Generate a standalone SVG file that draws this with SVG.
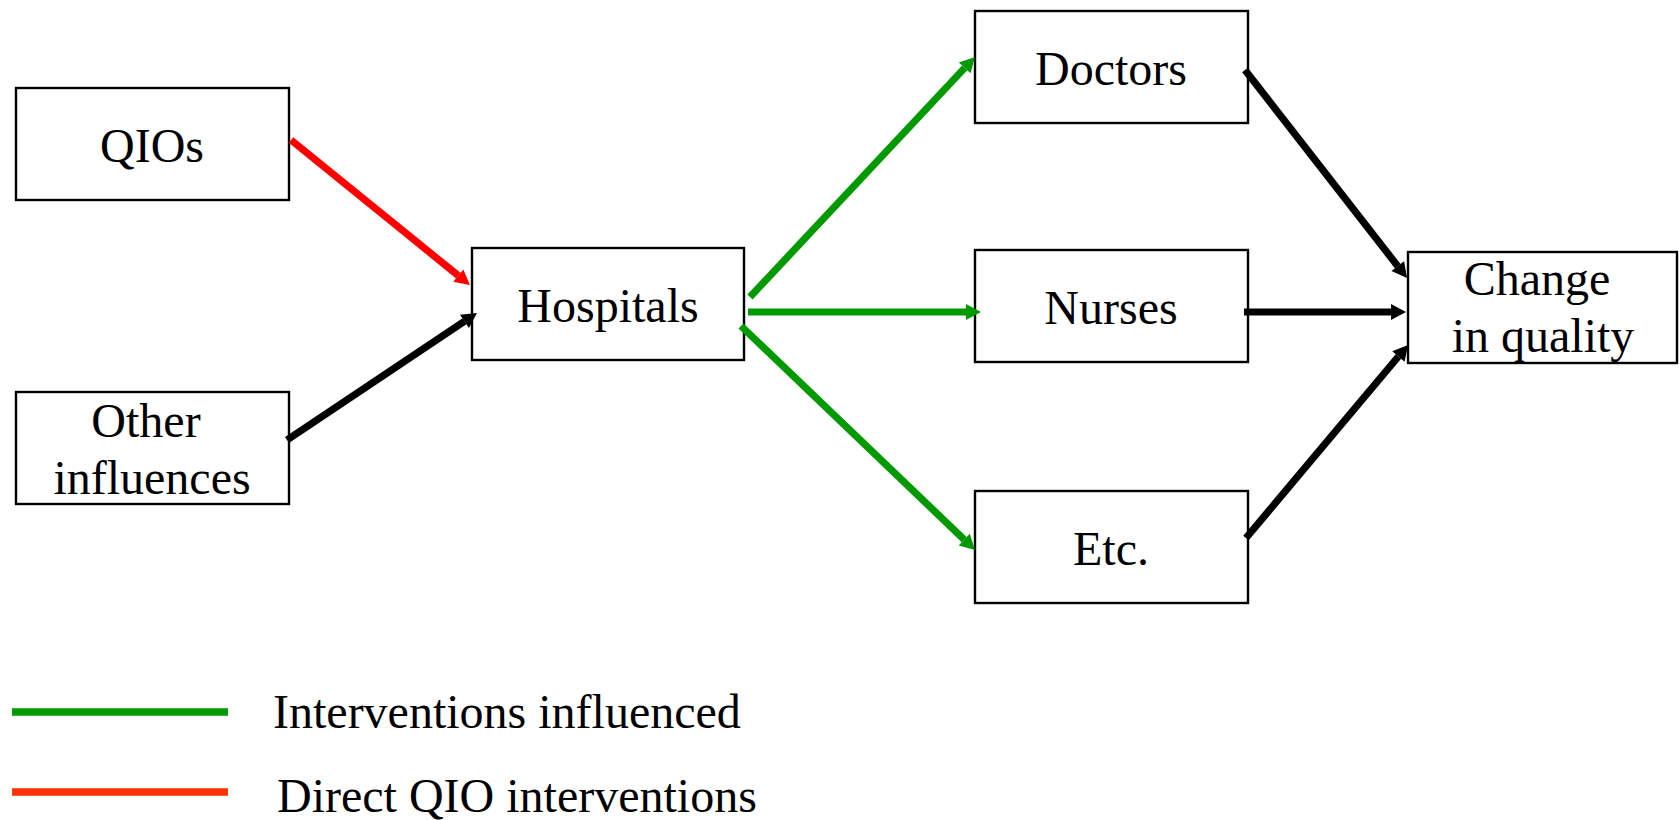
<svg xmlns="http://www.w3.org/2000/svg" width="1679" height="820" viewBox="0 0 1679 820">
<style>
.box{fill:#fff;stroke:#000;stroke-width:2.4}
.lbl{font-family:"Liberation Serif","Times New Roman",serif;font-size:48px;fill:#000;text-anchor:middle}
.leg{font-family:"Liberation Serif","Times New Roman",serif;font-size:48px;fill:#000}
.c{fill:none;stroke-width:7.2;stroke-linecap:butt}
.red{stroke:#FF0000}
.grn{stroke:#009900}
.blk{stroke:#000}
</style>
<defs>
<marker id="ar" markerUnits="userSpaceOnUse" markerWidth="16" markerHeight="16" refX="0" refY="8" orient="auto" overflow="visible"><path d="M0,0 L15,8 L0,16 z" fill="#FF0000"/></marker>
<marker id="ag" markerUnits="userSpaceOnUse" markerWidth="16" markerHeight="16" refX="0" refY="8" orient="auto" overflow="visible"><path d="M0,0 L15,8 L0,16 z" fill="#009900"/></marker>
<marker id="ak" markerUnits="userSpaceOnUse" markerWidth="16" markerHeight="16" refX="0" refY="8" orient="auto" overflow="visible"><path d="M0,0 L15,8 L0,16 z" fill="#000"/></marker>
</defs>
<rect width="1679" height="820" fill="#fff"/>
<g id="qios"><rect class="box" x="16" y="88" width="273" height="112"/><text class="lbl" x="152" y="162">QIOs</text></g>
<g id="other"><rect class="box" x="16" y="392" width="273" height="112"/><text class="lbl" x="146" y="437">Other</text><text class="lbl" x="152" y="494">influences</text></g>
<g id="hospitals"><rect class="box" x="472" y="248" width="272" height="112"/><text class="lbl" x="608" y="322">Hospitals</text></g>
<g id="doctors"><rect class="box" x="975" y="11" width="273" height="112"/><text class="lbl" x="1111" y="85">Doctors</text></g>
<g id="nurses"><rect class="box" x="975" y="250" width="273" height="112"/><text class="lbl" x="1111" y="324">Nurses</text></g>
<g id="etc"><rect class="box" x="975" y="491" width="273" height="112"/><text class="lbl" x="1111" y="565">Etc.</text></g>
<g id="change"><rect class="box" x="1408" y="252" width="269" height="111"/><text class="lbl" x="1537" y="295">Change</text><text class="lbl" x="1543" y="352">in quality</text></g>
<g id="connectors">
<line class="c red" x1="291" y1="140" x2="458.3" y2="275.6" marker-end="url(#ar)"/>
<line class="c blk" x1="287" y1="440" x2="464.5" y2="321.3" marker-end="url(#ak)"/>
<line class="c grn" x1="750" y1="297" x2="964.7" y2="67.9" marker-end="url(#ag)"/>
<line class="c grn" x1="748" y1="312" x2="966" y2="312" marker-end="url(#ag)"/>
<line class="c grn" x1="741" y1="326" x2="964.2" y2="539.6" marker-end="url(#ag)"/>
<line class="c blk" x1="1245" y1="70" x2="1397.8" y2="266.2" marker-end="url(#ak)"/>
<line class="c blk" x1="1244" y1="312" x2="1391" y2="312" marker-end="url(#ak)"/>
<line class="c blk" x1="1246" y1="538" x2="1398.4" y2="356.5" marker-end="url(#ak)"/>
</g>
<g id="legend">
<line x1="12" y1="712" x2="228" y2="712" stroke="#009900" stroke-width="7.5"/>
<text class="leg" x="273" y="728">Interventions influenced</text>
<line x1="12" y1="792" x2="228" y2="792" stroke="#FF3300" stroke-width="7.5"/>
<text class="leg" x="277" y="812">Direct QIO interventions</text>
</g>
</svg>
